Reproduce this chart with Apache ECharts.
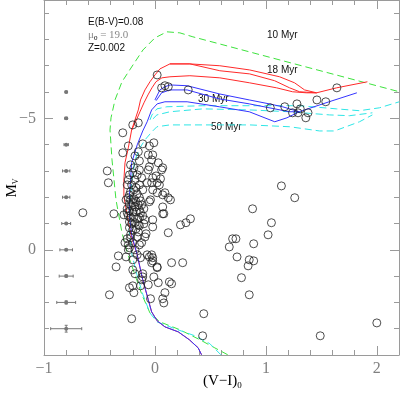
<!DOCTYPE html>
<html><head><meta charset="utf-8">
<script src="https://cdn.jsdelivr.net/npm/echarts@6/dist/echarts.min.js"></script>
<style>html,body{margin:0;padding:0;background:#fff}#c{width:400px;height:395px}</style>
</head><body><div id="c"></div>
<script>
// ---- tick values ----
const xMajorTicks = [-1, 0, 1, 2];
const xMinorTicks = [-0.8, -0.6, -0.4, -0.2, 0.2, 0.4, 0.6, 0.8, 1.2, 1.4, 1.6, 1.8];
const yMajorTicks = [-5, 0];
const yMinorTicks = [-9, -8, -7, -6, -4, -3, -2, -1, 1, 2, 3];

// ---- observed stars [(V-I)0, Mv] ----
const stars = [
 [0.02,-6.65],[0.06,-6.16],[0.09,-6.24],[0.12,-6.20],[0.30,-6.08],[-0.20,-4.75],[-0.15,-4.83],[-0.29,-4.45],
 [1.04,-5.40],[1.17,-5.44],[1.28,-5.55],[1.31,-5.36],[1.24,-5.21],[1.29,-5.21],[1.38,-5.21],[1.36,-5.02],[1.46,-5.70],[1.54,-5.63],[1.64,-6.16],[1.14,-2.43],[1.26,-1.98],
 [-0.29,-3.69],[-0.43,-3.00],[-0.42,-2.55],[-0.18,-3.57],[-0.15,-3.73],[-0.14,-3.38],[-0.06,-3.61],[-0.05,-3.95],[-0.01,-4.07],[-0.11,-4.03],[-0.14,-3.04],[-0.05,-3.16],[-0.12,-2.74],[-0.18,-2.66],[-0.20,-2.93],[-0.23,-2.09],[-0.25,-2.47],[-0.07,-2.55],[-0.11,-2.28],[-0.02,-2.28],[0.01,-2.81],[0.05,-2.70],[0.03,-3.31],[0.06,-3.04],[0.12,-1.98],[0.07,-2.09],[-0.05,-1.83],[-0.12,-1.71],[-0.02,-1.14],[0.07,-1.63],
 [-0.02,-3.61],[-0.03,-3.42],[0.07,-3.12],[-0.02,-2.74],[0.02,-2.55],[0.04,-2.47],[-0.03,-2.55],[0.09,-2.17],[0.02,-2.17],[0.14,-1.90],[-0.04,-1.90],[0.08,-1.37],[-0.02,-0.87],[0.32,-1.18],[0.28,-1.03],[0.23,-0.95],[0.12,-0.65],
 [0.88,-1.56],[1.05,-1.03],[1.02,-0.57],[0.73,-0.42],[0.70,-0.42],[0.67,-0.11],[0.89,-0.23],[0.74,0.27],[0.85,0.38],[0.89,0.42],[0.84,0.61],[0.15,0.49],[0.25,0.49],[-0.03,0.19],[-0.02,0.30],[0.02,0.65],[-0.03,0.49],[0.78,1.06],[0.85,1.71],[0.44,2.43],[0.43,3.27],[1.49,3.27],[2.00,2.78],
 [-0.65,-1.41],[-0.41,1.71],[-0.21,2.62],[-0.35,0.65],[-0.33,0.23],[-0.37,-1.37],[0.07,-1.37],[-0.10,-0.99],[-0.09,-0.49],[-0.08,-0.61],[-0.23,1.44],[-0.19,1.63],[-0.04,1.86],[0.07,1.86],[0.09,1.63],[0.13,1.22],[0.15,1.29],[0.08,2.02],[0.03,1.25],[-0.06,1.33],[-0.01,1.03],[-0.11,1.03],[0.02,0.68],[-0.02,0.42],[-0.05,0.27],[-0.07,0.19],[-0.13,0.30],[-0.16,0.19],[-0.20,0.38],[-0.20,0.76],[-0.18,0.91],[-0.11,0.91],[-0.12,1.14],[-0.13,1.37],[-0.20,1.37],[-0.24,-0.19],[-0.27,-0.27],[-0.25,-0.42],[-0.25,-1.41],[-0.28,-1.33],[-0.16,-0.49],[-0.15,-0.68],[-0.20,-0.27],[-0.22,-0.57],[-0.14,-1.22],[-0.11,-1.29],[-0.20,-1.79],[-0.26,0.27],
 [-0.24,-1.98],[-0.22,-1.90],[-0.19,-1.94],[-0.17,-1.83],[-0.23,-1.75],[-0.21,-1.67],[-0.18,-1.63],[-0.15,-1.71],[-0.25,-1.56],[-0.23,-1.48],[-0.20,-1.44],[-0.17,-1.44],[-0.14,-1.52],[-0.24,-1.29],[-0.22,-1.22],[-0.19,-1.25],[-0.16,-1.18],[-0.23,-1.06],[-0.21,-0.99],[-0.18,-1.03],[-0.15,-0.95],[-0.23,-0.84],[-0.20,-0.76],[-0.17,-0.80],[-0.22,-2.21],[-0.19,-2.28],[-0.16,-2.13],[-0.14,-1.98],[-0.13,-1.86],[-0.26,-1.90],[-0.10,-1.56],[-0.13,-1.41],[-0.09,-1.14],[-0.14,-0.91],[-0.22,-0.46],[-0.24,0.00],[-0.23,-0.08],[-0.18,0.00],[-0.14,-0.19],[-0.12,-0.27],
 [-0.23,-2.85],[-0.24,-2.66],[-0.21,-2.47],[-0.19,-3.12],[-0.22,-3.23],[-0.16,-2.85],[-0.14,-2.47],[-0.17,-2.36],[-0.24,-3.95],[-0.06,-3.04]
];

// ---- isochrones [(V-I)0, Mv] ----
const iso10 = [[0.656,3.99],[0.540,3.73],[0.405,3.42],[0.225,3.04],[0.045,2.74],[-0.045,2.40],[-0.117,1.71],[-0.180,0.95],[-0.243,0.19],[-0.297,-0.65],[-0.351,-1.90],[-0.387,-3.42],[-0.405,-4.56],[-0.396,-5.02],[-0.360,-5.70],[-0.297,-6.39],[-0.198,-7.03],[-0.108,-7.60],[0.0,-8.06],[0.108,-8.29],[0.225,-8.25],[0.342,-8.10],[2.203,-6.01]];
const iso18a = [[0.42,3.99],[0.39,3.73],[0.31,3.42],[0.21,3.12],[0.09,2.93],[0.02,2.70],[-0.03,2.36],[-0.06,1.90],[-0.11,1.14],[-0.16,0.19],[-0.216,-0.57],[-0.25,-1.33],[-0.28,-2.02],[-0.28,-2.66],[-0.27,-3.31],[-0.24,-3.88],[-0.21,-4.56],[-0.18,-4.94],[-0.15,-5.32],[-0.13,-5.70],[-0.09,-6.08],[-0.045,-6.39],[0.0,-6.65],[0.045,-6.88],[0.135,-7.07],[0.315,-7.07],[0.585,-7.00],[0.854,-6.84],[1.124,-6.58],[1.259,-6.35],[1.349,-6.08],[1.457,-5.97],[1.637,-6.16],[1.915,-6.39]];
const iso18b = [[0.135,-7.07],[0.315,-7.07],[0.585,-6.81],[0.854,-6.69],[1.079,-6.43],[1.214,-6.16],[1.304,-6.01],[1.457,-5.97]];
const iso18c = [[-0.21,-4.56],[-0.171,-4.90],[-0.135,-5.25],[-0.099,-5.59],[-0.063,-5.89],[-0.027,-6.16],[0.009,-6.39],[0.063,-6.54],[0.135,-6.58],[0.315,-6.62],[0.585,-6.54],[0.854,-6.35],[1.097,-6.16],[1.241,-6.01],[1.367,-5.97],[1.457,-5.97]];
const iso30a = [[0.42,3.99],[0.39,3.73],[0.31,3.42],[0.21,3.12],[0.09,2.93],[0.02,2.70],[-0.03,2.36],[-0.06,1.90],[-0.11,1.14],[-0.16,0.19],[-0.21,-0.57],[-0.23,-1.33],[-0.23,-2.09],[-0.22,-2.66],[-0.21,-3.31],[-0.16,-3.99],[-0.11,-4.52],[-0.07,-4.87],[-0.03,-5.32],[0.02,-5.55],[0.09,-5.63],[0.29,-5.63],[0.58,-5.44],[0.85,-5.25],[1.08,-4.87],[1.19,-5.02],[1.30,-5.25],[1.57,-5.63],[1.82,-5.97]];
const iso30b = [[0.0,-5.70],[0.045,-6.08],[0.09,-6.20],[0.135,-6.27],[0.29,-6.24],[0.58,-5.93],[0.85,-5.70],[1.03,-5.55],[1.15,-5.44],[1.30,-5.25]];
const iso30c = [[0.01,-5.67],[0.06,-5.97],[0.135,-6.08],[0.29,-6.08],[0.58,-5.74],[0.85,-5.55],[1.08,-5.36],[1.21,-5.25],[1.30,-5.25]];
const iso50a = [[0.594,3.99],[0.495,3.57],[0.36,3.27],[0.18,3.00],[0.018,2.74],[-0.045,2.40],[-0.108,1.71],[-0.162,0.95],[-0.207,0.19],[-0.234,-0.76],[-0.225,-1.71],[-0.207,-2.66],[-0.18,-3.42],[-0.135,-3.88],[-0.09,-4.18],[-0.027,-4.49],[0.018,-4.68],[0.135,-4.75],[0.432,-4.75],[0.854,-4.75],[1.214,-4.68],[1.484,-4.52],[1.619,-4.52],[1.844,-4.87],[1.960,-5.13]];
const iso50b = [[-0.045,-4.94],[-0.027,-5.13],[0.018,-5.36],[0.108,-5.44],[0.432,-5.48],[0.854,-5.48],[1.304,-5.48],[1.637,-5.36],[1.844,-5.29],[2.023,-5.40],[2.203,-5.63]];
const iso50c = [[-0.018,-4.98],[0.018,-5.13],[0.135,-5.25],[0.432,-5.36],[0.854,-5.32],[1.214,-5.25],[1.574,-5.13],[1.754,-5.10],[1.960,-5.21]];

// ---- photometric error bars ----
const errColour = -0.8;
const errMv = [-6, -5, -4, -3, -2, -1, 0, 1, 2, 3];
const errXHalf = [0.008, 0.012, 0.02, 0.033, 0.033, 0.04, 0.057, 0.063, 0.085, 0.14];
const errYHalf = [0.01, 0.01, 0.01, 0.02, 0.02, 0.02, 0.03, 0.04, 0.06, 0.13];

const fmt = v => (v < 0 ? '\u2212' + Math.abs(v) : String(v));
const axisGrey = '#9a9a9a';
const serif = 'Liberation Serif';

function xAx(pos, ticks, len, withLine, withLabel) {
  return {
    type: 'value', min: -1, max: 2.2, position: pos,
    axisLine: { show: withLine, onZero: false, lineStyle: { color: axisGrey, width: 1 } },
    axisTick: { show: true, inside: true, length: len, customValues: ticks, lineStyle: { color: axisGrey, width: 1 } },
    axisLabel: withLabel ? { show: true, customValues: ticks, formatter: fmt, color: '#808080', fontFamily: serif, fontSize: 16, margin: 6 } : { show: false },
    splitLine: { show: false }
  };
}
function yAx(pos, ticks, len, withLine, withLabel) {
  return {
    type: 'value', min: -9.5, max: 4, inverse: true, position: pos,
    axisLine: { show: withLine, onZero: false, lineStyle: { color: axisGrey, width: 1 } },
    axisTick: { show: true, inside: true, length: len, customValues: ticks, lineStyle: { color: axisGrey, width: 1 } },
    axisLabel: withLabel ? { show: true, customValues: ticks, formatter: fmt, color: '#808080', fontFamily: serif, fontSize: 16, margin: 8 } : { show: false },
    splitLine: { show: false }
  };
}

const lineS = (data, color, dashed) => ({
  type: 'line', data: data, xAxisIndex: 0, yAxisIndex: 0, showSymbol: false, symbol: 'none',
  lineStyle: { color: color, width: 1, type: dashed ? [7, 4] : 'solid' }, z: 2, silent: true, animation: false
});

const errData = errMv.map((m, i) => [errColour, m, errXHalf[i], errYHalf[i]]);

const chart = echarts.init(document.getElementById('c'), null, { renderer: 'canvas' });
chart.setOption({
  animation: false,
  backgroundColor: '#fff',
  grid: { left: 44, right: 1, top: 0, bottom: 40 },
  xAxis: [
    xAx('bottom', xMajorTicks, 9, true, true),
    xAx('bottom', xMinorTicks, 5, false, false),
    xAx('top', xMajorTicks, 9, true, false),
    xAx('top', xMinorTicks, 5, false, false)
  ],
  yAxis: [
    yAx('left', yMajorTicks, 9, true, true),
    yAx('left', yMinorTicks, 5, false, false),
    yAx('right', yMajorTicks, 9, true, false),
    yAx('right', yMinorTicks, 5, false, false)
  ],
  series: [
    lineS(iso10, '#3ee23e', true),
    lineS(iso50a, '#2fe6e6', true),
    lineS(iso50b, '#2fe6e6', true),
    lineS(iso50c, '#2fe6e6', true),
    lineS(iso18a, '#ff2a2a', false),
    lineS(iso18b, '#ff2a2a', false),
    lineS(iso18c, '#ff2a2a', false),
    lineS(iso30a, '#3434ff', false),
    lineS(iso30b, '#3434ff', false),
    lineS(iso30c, '#3434ff', false),
    {
      type: 'scatter', data: stars, symbol: 'circle', symbolSize: 8,
      itemStyle: { color: 'rgba(0,0,0,0)', borderColor: '#222', borderWidth: 1 }, z: 3, silent: true
    },
    {
      type: 'custom', data: errData, silent: true, z: 3,
      renderItem: function (params, api) {
        const x = api.value(0), y = api.value(1), ex = api.value(2), ey = api.value(3);
        const c = api.coord([x, y]);
        const l = api.coord([x - ex, y]), r = api.coord([x + ex, y]);
        const t = api.coord([x, y - ey]), b = api.coord([x, y + ey]);
        const st = { stroke: '#777', lineWidth: 1 };
        return {
          type: 'group', children: [
            { type: 'line', shape: { x1: l[0], y1: l[1], x2: r[0], y2: r[1] }, style: st },
            { type: 'line', shape: { x1: l[0], y1: l[1] - 1.5, x2: l[0], y2: l[1] + 1.5 }, style: st },
            { type: 'line', shape: { x1: r[0], y1: r[1] - 1.5, x2: r[0], y2: r[1] + 1.5 }, style: st },
            { type: 'line', shape: { x1: t[0], y1: t[1], x2: b[0], y2: b[1] }, style: st },
            { type: 'line', shape: { x1: t[0] - 1.5, y1: t[1], x2: t[0] + 1.5, y2: t[1] }, style: st },
            { type: 'line', shape: { x1: b[0] - 1.5, y1: b[1], x2: b[0] + 1.5, y2: b[1] }, style: st },
            { type: 'circle', shape: { cx: c[0], cy: c[1], r: 2 }, style: { fill: '#777' } }
          ]
        };
      }
    }
  ],
  graphic: [
    { type: 'text', left: 88, top: 17, style: { text: 'E(B-V)=0.08', font: '10px "Liberation Sans"', fill: '#111' } },
    { type: 'text', left: 88, top: 30, style: { text: '{m|\u03bc}{s|0}{m| = 19.0}', rich: { m: { fontFamily: serif, fontSize: 11, fill: '#8a8a8a', color: '#8a8a8a' }, s: { fontFamily: serif, fontSize: 7, color: '#8a8a8a', padding: [5, 0, 0, 0] } } } },
    { type: 'text', left: 88, top: 43, style: { text: 'Z=0.002', font: '10px "Liberation Sans"', fill: '#111' } },
    { type: 'text', left: 267, top: 30, style: { text: '10 Myr', font: '10px "Liberation Sans"', fill: '#111' } },
    { type: 'text', left: 267, top: 65, style: { text: '18 Myr', font: '10px "Liberation Sans"', fill: '#111' } },
    { type: 'text', left: 198, top: 94, style: { text: '30 Myr', font: '10px "Liberation Sans"', fill: '#111' } },
    { type: 'text', left: 211, top: 122, style: { text: '50 Myr', font: '10px "Liberation Sans"', fill: '#111' } },
    { type: 'text', left: 203, top: 374, style: { text: '{m|(V\u2212I)}{s|0}', rich: { m: { fontFamily: serif, fontSize: 15, color: '#808080' }, s: { fontFamily: serif, fontSize: 9, color: '#808080', padding: [8, 0, 0, 0] } } } },
    { type: 'text', x: 12, y: 188, rotation: Math.PI / 2, style: { text: '{m|M}{s|V}', align: 'center', verticalAlign: 'middle', rich: { m: { fontFamily: serif, fontSize: 15, color: '#808080' }, s: { fontFamily: serif, fontSize: 8, color: '#808080', padding: [7, 0, 0, 0] } } } }
  ]
});
</script></body></html>
